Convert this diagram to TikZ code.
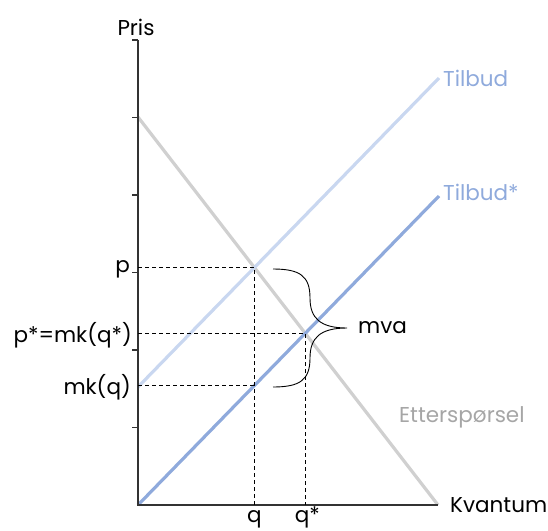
\documentclass[tikz,border=0pt]{standalone}
\usepackage{fontspec}
\setmainfont{Poppins}
\definecolor{demc}{HTML}{D0D0D0}
\definecolor{sup1}{HTML}{C9D7F0}
\definecolor{sup2}{HTML}{8FAADC}
\definecolor{etc}{HTML}{A6A6A6}
\begin{document}
\begin{tikzpicture}[x=1pt,y=-1pt,
  lbl/.style={font=\fontsize{21.5}{24}\selectfont, inner sep=0pt},
  axisline/.style={line width=1.2pt, draw=black!80},
  guide/.style={line width=0.8pt, dash pattern=on 4pt off 3pt},
  curve/.style={line width=3.2pt}]
\useasboundingbox (0,0) rectangle (548,530);
% key points
\coordinate (O) at (138,505);
\coordinate (Ytop) at (138,40);
\coordinate (Xend) at (438,505);
\coordinate (Da) at (138,117);
\coordinate (Db) at (438,505);
\coordinate (S1a) at (138,387);
\coordinate (S1b) at (439,78);
\coordinate (S2a) at (138,505);
\coordinate (S2b) at (439,196);
\coordinate (E1) at (intersection of Da--Db and S1a--S1b);
\coordinate (E2) at (intersection of Da--Db and S2a--S2b);
\coordinate (E1x) at (E1 |- O);
\coordinate (E2x) at (E2 |- O);
\coordinate (M) at (intersection of S2a--S2b and E1--E1x);
\coordinate (Pp) at (E1 -| O);
\coordinate (Pps) at (E2 -| O);
\coordinate (Pm) at (M -| O);
% curves
\draw[curve, demc] (Da) -- (Db);
\draw[curve, sup1] (S1a) -- (S1b);
\draw[curve, sup2] (S2a) -- (S2b);
% axes
\draw[axisline] (Ytop) -- (O) -- (Xend);
\foreach \yy in {40,117.5,195,272.5,350,427.5}
  \draw[axisline] (132,\yy) -- (138,\yy);
% guides
\draw[guide] (Pp) -- (E1) -- (E1x);
\draw[guide] (Pps) -- (E2) -- (E2x);
\draw[guide] (Pm) -- (M);
% brace
\draw[line width=0.9pt] (273,269) .. controls (300,269) and (310,276) .. (310,298)
  .. controls (310,318) and (320,328) .. (347,328)
  .. controls (320,328) and (310,338) .. (310,358)
  .. controls (310,380) and (300,387) .. (273,387);
% labels
\node[lbl, anchor=base] (pris) at (136,35) {Pris};
\node[lbl, anchor=west] (kv) at (450,505) {Kvantum};
\node[lbl, anchor=east] (lp) at (130,269) {p};
\node[lbl, anchor=east] (lps) at (132,335) {p*=mk(q*)};
\node[lbl, anchor=east] (lmk) at (131,387) {mk(q)};
\node[lbl, anchor=base] (lq) at (E1x) [yshift=-17pt] {q};
\node[lbl, anchor=base] (lqs) at (E2x) [yshift=-17pt, xshift=2pt] {q*};
\node[lbl, anchor=west] (mva) at (358,328) {mva};
\node[lbl, anchor=west, text=sup2] (t1) at (443,78) {Tilbud};
\node[lbl, anchor=west, text=sup2] (t2) at (443,192) {Tilbud*};
\node[lbl, anchor=west, text=etc] (et) at (399,417) {Etterspørsel};
\end{tikzpicture}
\end{document}
